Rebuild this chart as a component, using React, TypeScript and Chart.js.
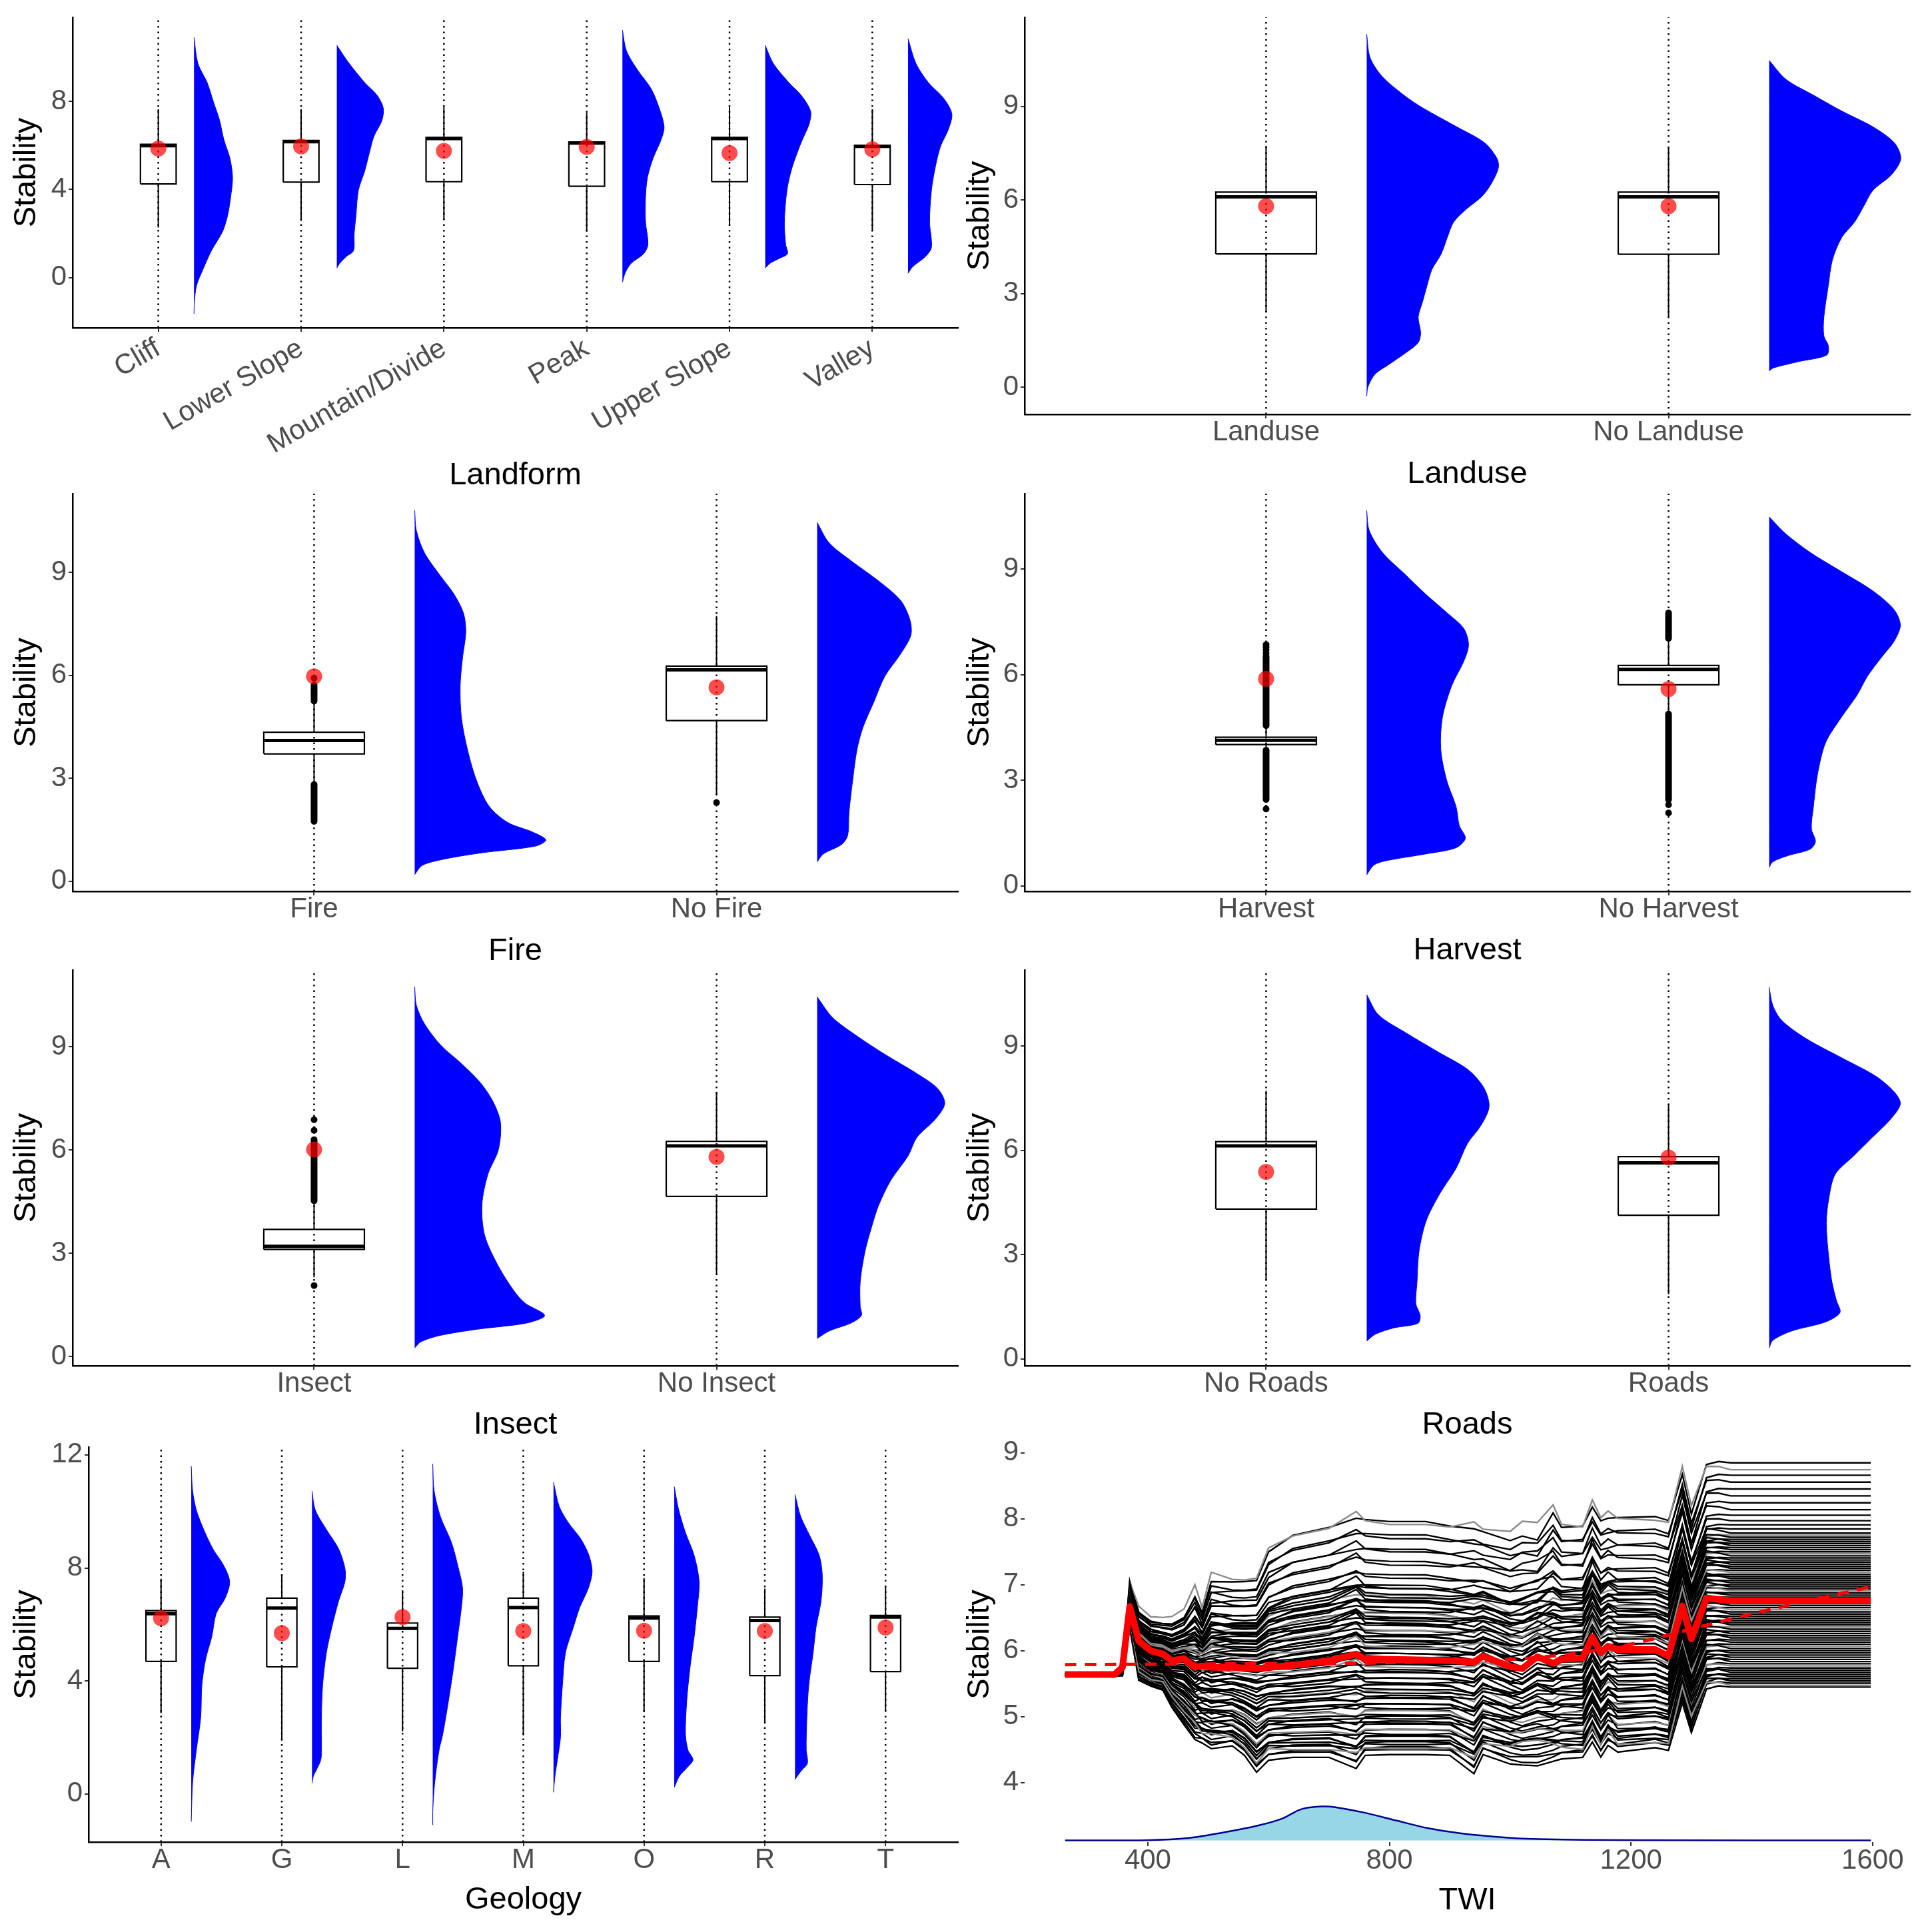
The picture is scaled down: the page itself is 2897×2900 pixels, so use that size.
import React, { useEffect, useRef } from 'react';
import { Chart, registerables } from 'chart.js';

Chart.register(...registerables);

const FONT = '"Liberation Sans", Arial, Helvetica, sans-serif';
Chart.defaults.font.family = FONT;

// ================= DATA =================
// box stats: [lower whisker, Q1, median, Q3, upper whisker]
// violins: [value, half-width in category units], top tip -> bottom tip

// ---- Landform ----
const landformCats = ['Cliff', 'Lower Slope', 'Mountain/Divide', 'Peak', 'Upper Slope', 'Valley'];
const landformBoxes = [
  [2.27, 4.25, 5.98, 6.05, 7.64],
  [2.57, 4.33, 6.16, 6.22, 7.64],
  [2.62, 4.35, 6.31, 6.36, 7.74],
  [2.09, 4.14, 6.1, 6.15, 7.47],
  [2.36, 4.35, 6.31, 6.36, 7.74],
  [2.16, 4.22, 5.95, 6.0, 7.64],
];
const landformMeans = [5.85, 5.95, 5.75, 5.93, 5.65, 5.82];
const cliffViolin = [[10.9, 0], [9.72, 0.027], [8.85, 0.092], [7.99, 0.135], [7.13, 0.179], [6.26, 0.209], [5.4, 0.252], [4.53, 0.27], [3.67, 0.257], [2.81, 0.235], [2.09, 0.2], [1.22, 0.122], [0.36, 0.062], [-0.36, 0.018], [-1.08, 0.003], [-1.65, 0]];
const lowerSlopeViolin = [[10.54, 0], [9.72, 0.086], [8.85, 0.195], [8.28, 0.281], [7.7, 0.325], [7.13, 0.316], [6.41, 0.26], [5.69, 0.229], [4.83, 0.195], [3.96, 0.151], [2.81, 0.134], [1.94, 0.121], [1.22, 0.117], [0.94, 0.064], [0.65, 0.021], [0.43, 0]];
const peakViolin = [[11.23, 0], [10.29, 0.028], [9.43, 0.105], [8.57, 0.201], [7.7, 0.257], [6.84, 0.292], [6.26, 0.271], [5.4, 0.214], [4.53, 0.175], [3.67, 0.162], [2.52, 0.162], [1.51, 0.179], [1.08, 0.149], [0.65, 0.062], [0.22, 0.02], [-0.21, 0]];
const upperSlopeViolin = [[10.54, 0], [9.72, 0.056], [8.85, 0.165], [8.28, 0.251], [7.56, 0.317], [6.98, 0.308], [6.12, 0.251], [4.97, 0.187], [3.96, 0.152], [2.52, 0.134], [1.51, 0.143], [1.08, 0.156], [0.87, 0.1], [0.65, 0.035], [0.43, 0]];
const valleyViolin = [[10.84, 0], [9.72, 0.055], [8.85, 0.142], [8.13, 0.25], [7.42, 0.307], [6.7, 0.281], [5.98, 0.229], [5.11, 0.194], [3.96, 0.164], [2.52, 0.151], [1.37, 0.164], [0.94, 0.12], [0.5, 0.034], [0.19, 0]];
const landformViolins = [cliffViolin, lowerSlopeViolin, null, peakViolin, upperSlopeViolin, valleyViolin];

// ---- Landuse ----
const landuseCats = ['Landuse', 'No Landuse'];
const landuseBoxes = [[2.4, 4.27, 6.1, 6.25, 7.73], [2.25, 4.26, 6.1, 6.25, 7.68]];
const landuseMeans = [5.8, 5.8];
const landuseViolin = [[11.31, 0], [10.57, 0.008], [9.96, 0.038], [9.35, 0.093], [8.95, 0.139], [8.34, 0.224], [7.83, 0.293], [7.32, 0.324], [7.02, 0.327], [6.51, 0.309], [6.11, 0.286], [5.7, 0.247], [5.29, 0.216], [4.79, 0.2], [4.27, 0.185], [3.77, 0.162], [3.26, 0.15], [2.75, 0.139], [2.25, 0.128], [1.74, 0.134], [1.43, 0.128], [1.13, 0.1], [0.72, 0.054], [0.41, 0.02], [0.01, 0.003], [-0.29, 0]];
const noLanduseViolin = [[10.47, 0], [9.86, 0.042], [9.35, 0.111], [8.85, 0.18], [8.34, 0.258], [7.83, 0.311], [7.32, 0.327], [6.81, 0.304], [6.31, 0.258], [5.8, 0.235], [5.29, 0.212], [4.79, 0.18], [4.07, 0.157], [3.26, 0.147], [2.25, 0.136], [1.64, 0.136], [1.33, 0.147], [1.03, 0.143], [0.82, 0.073], [0.62, 0.011], [0.52, 0]];

// ---- Fire ----
const fireCats = ['Fire', 'No Fire'];
const fireBoxes = [[2.85, 3.71, 4.1, 4.34, 5.2], [2.5, 4.68, 6.16, 6.27, 7.73]];
const fireMeans = [5.97, 5.65];
const fireOutlierRuns = [[[1.74, 2.82], [5.25, 5.72]], []];
const fireOutliers = [[5.92], [2.29]];
const fireViolin = [[10.81, 0], [10.23, 0.004], [9.58, 0.024], [8.93, 0.062], [8.38, 0.097], [7.82, 0.121], [7.27, 0.127], [6.53, 0.119], [5.7, 0.113], [4.77, 0.116], [3.84, 0.131], [2.92, 0.154], [2.18, 0.185], [1.71, 0.231], [1.43, 0.293], [1.2, 0.326], [1.02, 0.3], [0.83, 0.17], [0.65, 0.077], [0.46, 0.019], [0.19, 0]];
const noFireViolin = [[10.46, 0], [9.86, 0.03], [9.31, 0.088], [8.75, 0.153], [8.19, 0.207], [7.64, 0.23], [7.18, 0.233], [6.62, 0.207], [5.97, 0.168], [5.23, 0.141], [4.49, 0.114], [3.84, 0.099], [2.92, 0.088], [1.99, 0.079], [1.34, 0.076], [1.07, 0.061], [0.79, 0.015], [0.56, 0]];

// ---- Harvest ----
const harvestCats = ['Harvest', 'No Harvest'];
const harvestBoxes = [[3.72, 4.01, 4.13, 4.22, 4.5], [4.92, 5.71, 6.15, 6.26, 6.99]];
const harvestMeans = [5.88, 5.59];
const harvestOutlierRuns = [[[2.45, 3.85], [4.55, 6.52]], [[2.45, 4.88], [7.03, 7.75]]];
const harvestOutliers = [[2.18, 6.6, 6.7, 6.78, 6.85], [2.3, 2.07]];
const harvestViolin = [[10.66, 0], [10.1, 0.006], [9.47, 0.039], [8.84, 0.096], [8.3, 0.145], [7.76, 0.199], [7.31, 0.241], [6.85, 0.253], [6.4, 0.242], [5.68, 0.211], [4.78, 0.188], [3.88, 0.184], [2.98, 0.199], [2.25, 0.222], [1.71, 0.23], [1.35, 0.245], [1.08, 0.222], [0.9, 0.145], [0.72, 0.052], [0.59, 0.018], [0.31, 0]];
const noHarvestViolin = [[10.48, 0], [10.01, 0.04], [9.47, 0.102], [8.93, 0.179], [8.39, 0.256], [7.85, 0.31], [7.4, 0.326], [6.94, 0.31], [6.49, 0.279], [5.95, 0.244], [5.41, 0.218], [4.78, 0.179], [4.06, 0.14], [3.16, 0.12], [2.25, 0.11], [1.62, 0.105], [1.26, 0.115], [1.04, 0.102], [0.86, 0.048], [0.68, 0.009], [0.52, 0]];

// ---- Insect ----
const insectCats = ['Insect', 'No Insect'];
const insectBoxes = [[2.3, 3.11, 3.2, 3.69, 4.49], [2.39, 4.65, 6.12, 6.25, 7.69]];
const insectMeans = [6.01, 5.8];
const insectOutlierRuns = [[[4.52, 6.3]], []];
const insectOutliers = [[6.57, 6.88, 2.06], []];
const insectViolin = [[10.74, 0], [10.21, 0.004], [9.67, 0.024], [9.04, 0.065], [8.51, 0.116], [7.97, 0.162], [7.44, 0.193], [6.81, 0.213], [6.01, 0.208], [5.3, 0.182], [4.4, 0.167], [3.51, 0.174], [2.62, 0.208], [1.9, 0.247], [1.55, 0.274], [1.19, 0.323], [0.97, 0.278], [0.79, 0.155], [0.61, 0.063], [0.43, 0.016], [0.25, 0]];
const noInsectViolin = [[10.45, 0], [9.85, 0.038], [9.31, 0.099], [8.78, 0.168], [8.24, 0.245], [7.79, 0.299], [7.35, 0.317], [6.9, 0.294], [6.37, 0.248], [5.83, 0.226], [5.12, 0.183], [4.4, 0.153], [3.87, 0.138], [3.06, 0.119], [2.17, 0.107], [1.45, 0.107], [1.19, 0.11], [0.97, 0.084], [0.74, 0.03], [0.52, 0]];

// ---- Roads ----
const roadsCats = ['No Roads', 'Roads'];
const roadsBoxes = [[2.26, 4.31, 6.13, 6.25, 7.71], [1.86, 4.13, 5.64, 5.82, 7.34]];
const roadsMeans = [5.38, 5.79];
const noRoadsViolin = [[10.48, 0], [9.9, 0.029], [9.37, 0.099], [8.84, 0.176], [8.31, 0.253], [7.78, 0.292], [7.25, 0.304], [6.72, 0.284], [6.19, 0.25], [5.48, 0.222], [4.78, 0.183], [3.98, 0.148], [3.1, 0.13], [2.21, 0.125], [1.59, 0.122], [1.24, 0.133], [1.02, 0.127], [0.89, 0.068], [0.71, 0.022], [0.51, 0]];
const roadsViolin = [[10.7, 0], [10.17, 0.009], [9.73, 0.032], [9.2, 0.094], [8.67, 0.179], [8.14, 0.264], [7.69, 0.31], [7.34, 0.326], [6.9, 0.302], [6.37, 0.256], [5.84, 0.21], [5.31, 0.164], [4.6, 0.148], [3.89, 0.142], [2.92, 0.148], [2.21, 0.156], [1.68, 0.167], [1.33, 0.176], [1.06, 0.14], [0.8, 0.056], [0.53, 0.009], [0.31, 0]];

// ---- Geology ----
const geologyCats = ['A', 'G', 'L', 'M', 'O', 'R', 'T'];
const geologyBoxes = [
  [2.87, 4.69, 6.38, 6.49, 7.62],
  [1.89, 4.5, 6.58, 6.93, 7.78],
  [2.22, 4.45, 5.86, 6.05, 7.21],
  [2.07, 4.54, 6.6, 6.93, 7.87],
  [2.9, 4.69, 6.23, 6.3, 7.64],
  [2.49, 4.19, 6.14, 6.26, 7.27],
  [2.93, 4.33, 6.26, 6.32, 7.35],
];
const geologyMeans = [6.22, 5.69, 6.26, 5.77, 5.78, 5.77, 5.89];
const geoAViolin = [[11.6, 0], [10.74, 0.011], [10.05, 0.042], [9.36, 0.103], [8.67, 0.18], [8.1, 0.267], [7.52, 0.318], [6.95, 0.283], [6.38, 0.206], [5.57, 0.17], [4.77, 0.119], [3.85, 0.088], [2.7, 0.078], [1.55, 0.042], [0.4, 0.011], [-0.98, 0]];
const geoGViolin = [[10.72, 0], [10.05, 0.027], [9.36, 0.119], [8.67, 0.221], [7.98, 0.273], [7.52, 0.273], [6.84, 0.221], [5.92, 0.165], [5.0, 0.119], [3.85, 0.088], [2.7, 0.078], [1.55, 0.078], [1.21, 0.073], [0.86, 0.037], [0.63, 0.011], [0.38, 0]];
const geoLViolin = [[11.68, 0], [10.74, 0.011], [9.82, 0.063], [8.9, 0.155], [8.1, 0.206], [7.29, 0.247], [6.6, 0.237], [5.57, 0.206], [4.42, 0.17], [3.27, 0.129], [2.12, 0.083], [1.55, 0.052], [0.4, 0.016], [-0.52, 0.001], [-1.09, 0]];
const geoMViolin = [[11.03, 0], [10.17, 0.048], [9.59, 0.125], [9.02, 0.227], [8.44, 0.294], [7.87, 0.32], [7.29, 0.289], [6.6, 0.217], [5.92, 0.166], [5.0, 0.099], [3.85, 0.074], [2.7, 0.058], [2.01, 0.058], [1.21, 0.032], [0.63, 0.012], [0.06, 0]];
const geoOViolin = [[10.88, 0], [10.05, 0.037], [9.25, 0.093], [8.44, 0.165], [7.52, 0.206], [6.6, 0.191], [5.57, 0.165], [4.42, 0.129], [3.27, 0.103], [2.12, 0.093], [1.55, 0.114], [1.21, 0.155], [0.92, 0.103], [0.63, 0.042], [0.23, 0]];
const geoRViolin = [[10.6, 0], [9.82, 0.047], [9.13, 0.124], [8.44, 0.201], [7.75, 0.226], [6.84, 0.216], [5.92, 0.175], [5.0, 0.15], [3.85, 0.114], [2.7, 0.098], [1.55, 0.093], [1.09, 0.103], [0.8, 0.047], [0.51, 0]];

// ---- TWI ICE plot ----
const iceGrid = [263, 345, 358, 370, 385, 405, 425, 440, 460, 478, 490, 505, 540, 560, 580, 600, 640, 700, 745, 760, 800, 860, 900, 940, 955, 1000, 1020, 1045, 1071, 1085, 1120, 1136, 1150, 1162, 1178, 1240, 1262, 1285, 1300, 1325, 1345, 1365, 1597];
const iceMean = [5.64, 5.64, 5.75, 6.67, 6.15, 6.0, 5.95, 5.85, 5.88, 5.75, 5.77, 5.75, 5.75, 5.74, 5.73, 5.75, 5.78, 5.85, 5.95, 5.87, 5.87, 5.86, 5.85, 5.83, 5.92, 5.76, 5.73, 5.91, 5.81, 5.87, 5.89, 6.21, 5.97, 6.07, 6.02, 6.02, 5.92, 6.68, 6.18, 6.8, 6.78, 6.76, 6.76];
const iceTop = [5.66, 5.66, 5.7, 7.06, 6.62, 6.48, 6.45, 6.45, 6.55, 6.9, 6.62, 7.12, 7.08, 7.08, 7.1, 7.55, 7.78, 7.9, 8.08, 8.02, 7.98, 7.98, 7.92, 7.92, 7.85, 7.75, 7.85, 7.8, 8.17, 7.92, 7.92, 8.25, 8.02, 8.08, 8.05, 8.05, 8.0, 8.75, 8.15, 8.85, 8.88, 8.85, 8.85];
const iceBottom = [5.62, 5.62, 5.62, 6.35, 5.6, 5.5, 5.45, 5.2, 4.95, 4.75, 4.65, 4.6, 4.6, 4.45, 4.2, 4.4, 4.42, 4.42, 4.3, 4.45, 4.45, 4.45, 4.45, 4.22, 4.48, 4.38, 4.4, 4.4, 4.42, 4.42, 4.42, 4.7, 4.45, 4.65, 4.5, 4.55, 4.52, 5.3, 4.85, 5.45, 5.48, 5.45, 5.45];
const iceZig = [0, 0, 0, 0, 0.08, 0.06, 0.08, 0.1, 0.12, 0.16, 0.08, 0.14, 0.07, 0.06, 0.07, 0.1, 0.06, 0.06, 0.14, 0.06, 0.04, 0.04, 0.06, 0.14, 0.09, 0.16, 0.22, 0.24, 0.16, 0.1, 0.06, 0.14, 0.1, 0.14, 0.06, 0.03, 0.05, 0.15, 0.15, 0.05, 0.02, 0, 0];
const iceZigPattern = [-0.5, 1, -0.8, 0.4, -1, 0.7, -0.3, 0.9, -0.6, 0.2, -0.9];
const icePositions = [
  1.0, 0.95, 0.91, 0.86, 0.81, 0.76, 0.71, 0.66, 0.62, 0.58, 0.55, 0.52,
  0.49, 0.475, 0.46, 0.445, 0.43, 0.415, 0.4, 0.385, 0.37, 0.355, 0.34, 0.325, 0.31, 0.295, 0.28, 0.265,
  0.25, 0.235, 0.22, 0.205, 0.19, 0.175, 0.16, 0.145, 0.13, 0.115, 0.1, 0.085, 0.07, 0.055, 0.04, 0.025, 0.01,
  -0.005, -0.03, -0.055, -0.08, -0.105, -0.13, -0.155, -0.18, -0.205, -0.23, -0.255, -0.28, -0.305, -0.33,
  -0.355, -0.38, -0.405, -0.43, -0.455, -0.48, -0.505, -0.53, -0.555, -0.58, -0.605, -0.63, -0.655, -0.68,
  -0.705, -0.73, -0.755, -0.78, -0.805, -0.83, -0.855, -0.88, -0.905, -0.93, -0.955, -0.98, -1.0,
];
const iceGreyLines = [1, 13, 22, 31, 40, 49, 57, 66, 75, 84];
const iceTrendX = [263, 500, 800, 1000, 1100, 1200, 1300, 1400, 1500, 1597];
const iceTrendY = [5.79, 5.8, 5.82, 5.87, 5.95, 6.1, 6.33, 6.56, 6.77, 6.97];
const iceDensX = [263, 400, 469, 520, 582, 623, 649, 664, 688, 709, 760, 812, 863, 915, 966, 1018, 1121, 1224, 1597];
const iceDensY = [3.124, 3.129, 3.163, 3.237, 3.35, 3.458, 3.581, 3.621, 3.641, 3.631, 3.543, 3.425, 3.312, 3.237, 3.188, 3.154, 3.134, 3.129, 3.124];
const iceDensBase = 3.124;
const twiTicks = [400, 800, 1200, 1600];
const iceYTicks = [4, 5, 6, 7, 8, 9];

// ================= LAYOUT / STYLE =================
const TICK_FONT = { family: FONT, size: 42, lineHeight: 1 };
const TITLE_FONT = { family: FONT, size: 47, lineHeight: 1 };
const NUDGE = 0.25;
const BOX_HALF = 0.125;

function geom(a: any, titleY: number, stabX: number) {
  const left = Math.round(stabX - 23.5);
  const top = a.t - 40;
  const right = a.r + 30;
  const bottom = Math.round(titleY + 33.5);
  return { left, top, width: right - left, height: bottom - top, yw: a.l - left, xh: bottom - a.b, padTop: 40, padRight: 30 };
}

const tickGrid = { display: true, drawOnChartArea: false, drawTicks: true, tickLength: 6, color: '#333333', lineWidth: 2 };

function rainDatasets(p: any) {
  const ds: any[] = [];
  const [yMin, yMax] = p.yRange;
  const line = (data: any[], extra: any) => ({ data, pointRadius: 0, borderColor: '#000', borderWidth: 2, fill: false, ...extra });
  p.violins.forEach((v: any, i: number) => {
    if (!v) return;
    const c = i + 1 + NUDGE;
    ds.push(line(v.map(([y, w]: number[]) => ({ x: c + w, y })), { fill: 'shape', backgroundColor: '#0000ff', borderColor: '#0000ff', borderWidth: 1, tension: 0.3 }));
  });
  p.boxes.forEach((b: number[], i: number) => {
    const c = i + 1;
    const [mn, q1, md, q3, mx] = b;
    ds.push(line([{ x: c, y: q3 }, { x: c, y: mx }], {}));
    ds.push(line([{ x: c, y: q1 }, { x: c, y: mn }], {}));
    ds.push(line([
      { x: c - BOX_HALF, y: q1 }, { x: c - BOX_HALF, y: q3 }, { x: c + BOX_HALF, y: q3 }, { x: c + BOX_HALF, y: q1 }, { x: c - BOX_HALF, y: q1 },
    ], { fill: 'shape', backgroundColor: '#ffffff', borderWidth: 2.2, borderJoinStyle: 'miter' }));
    ds.push(line([{ x: c - BOX_HALF, y: md }, { x: c + BOX_HALF, y: md }], { borderWidth: 5 }));
  });
  (p.runs || []).forEach((rs: number[][], i: number) => {
    rs.forEach(([lo, hi]) => ds.push(line([{ x: i + 1, y: lo }, { x: i + 1, y: hi }], { borderWidth: 10, borderCapStyle: 'round' })));
  });
  (p.outliers || []).forEach((pts: number[], i: number) => {
    if (!pts.length) return;
    ds.push({ data: pts.map((y) => ({ x: i + 1, y })), showLine: false, pointRadius: 5, pointBackgroundColor: '#000', pointBorderColor: 'rgba(0,0,0,0)', pointBorderWidth: 0 });
  });
  p.cats.forEach((_: string, i: number) => {
    ds.push(line([{ x: i + 1, y: yMin }, { x: i + 1, y: yMax }], { borderWidth: 2.5, borderDash: [2.5, 6] }));
  });
  p.means.forEach((m: number, i: number) => {
    ds.push({ data: [{ x: i + 1, y: m }], showLine: false, pointRadius: 12, pointBackgroundColor: 'rgba(255,0,0,0.7)', pointBorderColor: 'rgba(0,0,0,0)', pointBorderWidth: 0 });
  });
  return ds.map((d, i) => ({ ...d, order: -i }));
}

function baseOptions(g: any) {
  return {
    responsive: false,
    animation: false,
    devicePixelRatio: 1,
    events: [],
    layout: { padding: { left: 0, top: g.padTop, right: g.padRight, bottom: 0 } },
    plugins: { legend: { display: false }, tooltip: { enabled: false } },
  };
}

function rainConfig(p: any) {
  const g = geom(p.area, p.titleY, p.stabX);
  const n = p.cats.length;
  return {
    g,
    config: {
      type: 'line',
      data: { datasets: rainDatasets(p) },
      options: {
        ...baseOptions(g),
        scales: {
          x: {
            type: 'linear', min: 0.4, max: n + 0.6,
            afterBuildTicks: (s: any) => { s.ticks = p.cats.map((_: string, i: number) => ({ value: i + 1 })); },
            afterFit: (s: any) => { s.height = g.xh; },
            ticks: { autoSkip: false, minRotation: p.rot, maxRotation: p.rot, padding: p.labelPad, color: '#4d4d4d', font: TICK_FONT, callback: (_v: any, i: number) => p.cats[i] },
            grid: tickGrid,
            border: { display: true, color: '#000', width: 2.5 },
            title: { display: true, text: p.title, color: '#000', font: TITLE_FONT, padding: { top: 0, bottom: 10 } },
          },
          y: {
            type: 'linear', min: p.yRange[0], max: p.yRange[1],
            afterBuildTicks: (s: any) => { s.ticks = p.yTicks.map((v: number) => ({ value: v })); },
            afterFit: (s: any) => { s.width = g.yw; },
            ticks: { padding: 3, color: '#4d4d4d', font: TICK_FONT, callback: (v: any) => String(v) },
            grid: tickGrid,
            border: { display: true, color: '#000', width: 2.5 },
            title: { display: true, text: 'Stability', color: '#000', font: TITLE_FONT, padding: { top: 0, bottom: 0 } },
          },
        },
      },
    },
  };
}

function iceConfig() {
  const g = geom({ l: 1538, t: 2172, r: 2867, b: 2765 }, 2853, 1471);
  const ds: any[] = [];
  ds.push({ data: iceDensX.map((x, i) => ({ x, y: iceDensY[i] })), fill: { value: iceDensBase }, backgroundColor: '#97d6e6', borderColor: '#00008b', borderWidth: 2.5, pointRadius: 0, tension: 0.3 });
  icePositions.forEach((p, i) => {
    const data = iceGrid.map((x, k) => {
      const m = iceMean[k];
      const edge = p >= 0 ? iceTop[k] : iceBottom[k];
      return { x, y: m + Math.abs(p) * (edge - m) + iceZig[k] * iceZigPattern[i % iceZigPattern.length] };
    });
    ds.push({ data, borderColor: iceGreyLines.includes(i) ? '#8a8a8a' : '#000000', borderWidth: 2.4, pointRadius: 0, fill: false });
  });
  ds.push({ data: iceGrid.map((x, k) => ({ x, y: iceMean[k] })), borderColor: '#ff0000', borderWidth: 10, borderJoinStyle: 'round', pointRadius: 0, fill: false });
  ds.push({ data: iceTrendX.map((x, k) => ({ x, y: iceTrendY[k] })), borderColor: '#ff0000', borderWidth: 5, borderDash: [17, 13], pointRadius: 0, fill: false, tension: 0.3 });
  return {
    g,
    config: {
      type: 'line',
      data: { datasets: ds.map((d, i) => ({ ...d, order: -i })) },
      options: {
        ...baseOptions(g),
        scales: {
          x: {
            type: 'linear', min: 196, max: 1662,
            afterBuildTicks: (s: any) => { s.ticks = twiTicks.map((v) => ({ value: v })); },
            afterFit: (s: any) => { s.height = g.xh; },
            ticks: { autoSkip: false, maxRotation: 0, minRotation: 0, padding: 1, color: '#4d4d4d', font: TICK_FONT, callback: (v: any) => String(v) },
            grid: tickGrid,
            border: { display: false },
            title: { display: true, text: 'TWI', color: '#000', font: TITLE_FONT, padding: { top: 0, bottom: 10 } },
          },
          y: {
            type: 'linear', min: 3.1, max: 9.09,
            afterBuildTicks: (s: any) => { s.ticks = iceYTicks.map((v) => ({ value: v })); },
            afterFit: (s: any) => { s.width = g.yw; },
            ticks: { padding: 3, color: '#4d4d4d', font: TICK_FONT, callback: (v: any) => String(v) },
            grid: tickGrid,
            border: { display: false },
            title: { display: true, text: 'Stability', color: '#000', font: TITLE_FONT, padding: { top: 0, bottom: 0 } },
          },
        },
      },
    },
  };
}

const panelSpecs = [
  { title: 'Landform', cats: landformCats, boxes: landformBoxes, means: landformMeans, violins: landformViolins, yRange: [-2.28, 11.81], yTicks: [0, 4, 8], area: { l: 109, t: 26, r: 1438, b: 492 }, titleY: 714, stabX: 40, rot: 30, labelPad: 4 },
  { title: 'Landuse', cats: landuseCats, boxes: landuseBoxes, means: landuseMeans, violins: [landuseViolin, noLanduseViolin], yRange: [-0.87, 11.85], yTicks: [0, 3, 6, 9], area: { l: 1538, t: 26, r: 2867, b: 622 }, titleY: 712, stabX: 1471, rot: 0, labelPad: 0 },
  { title: 'Fire', cats: fireCats, boxes: fireBoxes, means: fireMeans, violins: [fireViolin, noFireViolin], runs: fireOutlierRuns, outliers: fireOutliers, yRange: [-0.3, 11.3], yTicks: [0, 3, 6, 9], area: { l: 109, t: 741, r: 1438, b: 1338 }, titleY: 1428, stabX: 40, rot: 0, labelPad: 0 },
  { title: 'Harvest', cats: harvestCats, boxes: harvestBoxes, means: harvestMeans, violins: [harvestViolin, noHarvestViolin], runs: harvestOutlierRuns, outliers: harvestOutliers, yRange: [-0.16, 11.14], yTicks: [0, 3, 6, 9], area: { l: 1538, t: 741, r: 2867, b: 1338 }, titleY: 1427, stabX: 1471, rot: 0, labelPad: 0 },
  { title: 'Insect', cats: insectCats, boxes: insectBoxes, means: insectMeans, violins: [insectViolin, noInsectViolin], runs: insectOutlierRuns, outliers: insectOutliers, yRange: [-0.27, 11.23], yTicks: [0, 3, 6, 9], area: { l: 109, t: 1456, r: 1438, b: 2050 }, titleY: 2139, stabX: 40, rot: 0, labelPad: 0 },
  { title: 'Roads', cats: roadsCats, boxes: roadsBoxes, means: roadsMeans, violins: [noRoadsViolin, roadsViolin], yRange: [-0.2, 11.19], yTicks: [0, 3, 6, 9], area: { l: 1538, t: 1456, r: 2867, b: 2050 }, titleY: 2139, stabX: 1471, rot: 0, labelPad: 0 },
  { title: 'Geology', cats: geologyCats, boxes: geologyBoxes, means: geologyMeans, violins: [geoAViolin, geoGViolin, geoLViolin, geoMViolin, geoOViolin, geoRViolin, null], yRange: [-1.7, 12.28], yTicks: [0, 4, 8, 12], area: { l: 133, t: 2172, r: 1438, b: 2765 }, titleY: 2852, stabX: 40, rot: 0, labelPad: 0 },
];

function ChartCanvas({ build }: { build: () => any }) {
  const ref = useRef<HTMLCanvasElement>(null);
  const built = useRef<any>(null);
  if (!built.current) built.current = build();
  const { g, config } = built.current;
  useEffect(() => {
    const chart = new Chart(ref.current as HTMLCanvasElement, config);
    return () => chart.destroy();
  }, []);
  return (
    <canvas
      ref={ref}
      width={g.width}
      height={g.height}
      style={{ position: 'absolute', left: g.left, top: g.top, width: g.width, height: g.height }}
    />
  );
}

export default function App() {
  return (
    <div style={{ position: 'absolute', left: 0, top: 0, width: 2897, height: 2900, background: '#ffffff', overflow: 'hidden' }}>
      {panelSpecs.map((p) => (
        <ChartCanvas key={p.title} build={() => rainConfig(p)} />
      ))}
      <ChartCanvas key="twi" build={iceConfig} />
    </div>
  );
}
